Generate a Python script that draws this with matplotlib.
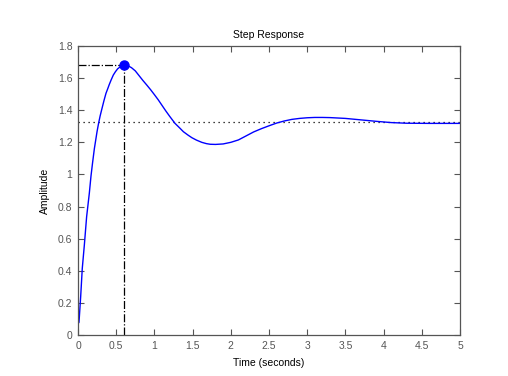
import matplotlib
matplotlib.use("Agg")
import matplotlib.pyplot as plt

# step response
time = [0, 0.013, 0.035, 0.056, 0.083, 0.113, 0.148, 0.17, 0.19, 0.214, 0.249, 0.27,
        0.29, 0.314, 0.34, 0.366, 0.39, 0.41, 0.435, 0.462, 0.49, 0.519, 0.56, 0.606,
        0.65, 0.70, 0.75, 0.80, 0.85, 0.90, 0.95, 1.0, 1.05, 1.1, 1.15, 1.2, 1.27, 1.33,
        1.38, 1.44, 1.49, 1.55, 1.62, 1.68, 1.73, 1.8, 1.9, 2.0, 2.1, 2.2, 2.3, 2.4, 2.5,
        2.6, 2.7, 2.8, 2.9, 3.0, 3.1, 3.2, 3.3, 3.5, 3.7, 3.9, 4.1, 4.3, 4.6, 5.0]
amp = [0.07, 0.079, 0.239, 0.415, 0.56, 0.737, 0.882, 0.99, 1.07, 1.16, 1.266, 1.32,
       1.365, 1.411, 1.46, 1.505, 1.535, 1.561, 1.59, 1.619, 1.64, 1.658, 1.673, 1.68,
       1.678, 1.665, 1.645, 1.615, 1.585, 1.557, 1.528, 1.497, 1.465, 1.43, 1.395, 1.362,
       1.318, 1.29, 1.266, 1.245, 1.229, 1.214, 1.20, 1.192, 1.188, 1.187, 1.19, 1.20,
       1.215, 1.24, 1.265, 1.285, 1.303, 1.32, 1.333, 1.343, 1.349, 1.353, 1.355, 1.355,
       1.354, 1.349, 1.34, 1.331, 1.323, 1.319, 1.318, 1.318]
peak_t = 0.606
peak_amp = 1.68
final_amp = 1.324

xticks = [0, 0.5, 1, 1.5, 2, 2.5, 3, 3.5, 4, 4.5, 5]
xticklabels = ["0", "0.5", "1", "1.5", "2", "2.5", "3", "3.5", "4", "4.5", "5"]
yticks = [0, 0.2, 0.4, 0.6, 0.8, 1, 1.2, 1.4, 1.6, 1.8]
yticklabels = ["0", "0.2", "0.4", "0.6", "0.8", "1", "1.2", "1.4", "1.6", "1.8"]

plt.rcParams['font.family'] = ['Liberation Sans', 'DejaVu Sans']
gray = '#555555'

fig = plt.figure(figsize=(5.08, 3.76), dpi=100, facecolor='white')
ax = fig.add_axes([78 / 508, 41 / 376, 382 / 508, 289 / 376])

# steady state and peak markers
ax.plot([0, 5], [final_amp, final_amp], color='black', linestyle=(0, (1, 3)), linewidth=0.9)
ax.plot([0, peak_t], [peak_amp, peak_amp], color='black', linestyle='-.', linewidth=0.9)
ax.plot([peak_t, peak_t], [0, peak_amp], color='black', linestyle='-.', linewidth=0.9)
ax.plot(time, amp, color='#0000ff', linewidth=1.0)
ax.plot([peak_t], [peak_amp], 'o', color='#0000ff', markersize=6.5)

ax.set_xlim(0, 5)
ax.set_ylim(0, 1.8)
ax.set_xticks(xticks)
ax.set_xticklabels(xticklabels)
ax.set_yticks(yticks)
ax.set_yticklabels(yticklabels)
ax.tick_params(direction='in', length=4, width=0.8, colors=gray, labelsize=7.5,
               top=True, right=True, pad=4)
for s in ax.spines.values():
    s.set_color(gray)
    s.set_linewidth(0.9)

ax.set_title("Step Response", fontsize=7.5, color='black', pad=6)
ax.set_xlabel("Time (seconds)", fontsize=7.5, color='black', labelpad=5)
ax.set_ylabel("Amplitude", fontsize=7.5, color='black', labelpad=6)

fig.savefig("out.png", dpi=100)
